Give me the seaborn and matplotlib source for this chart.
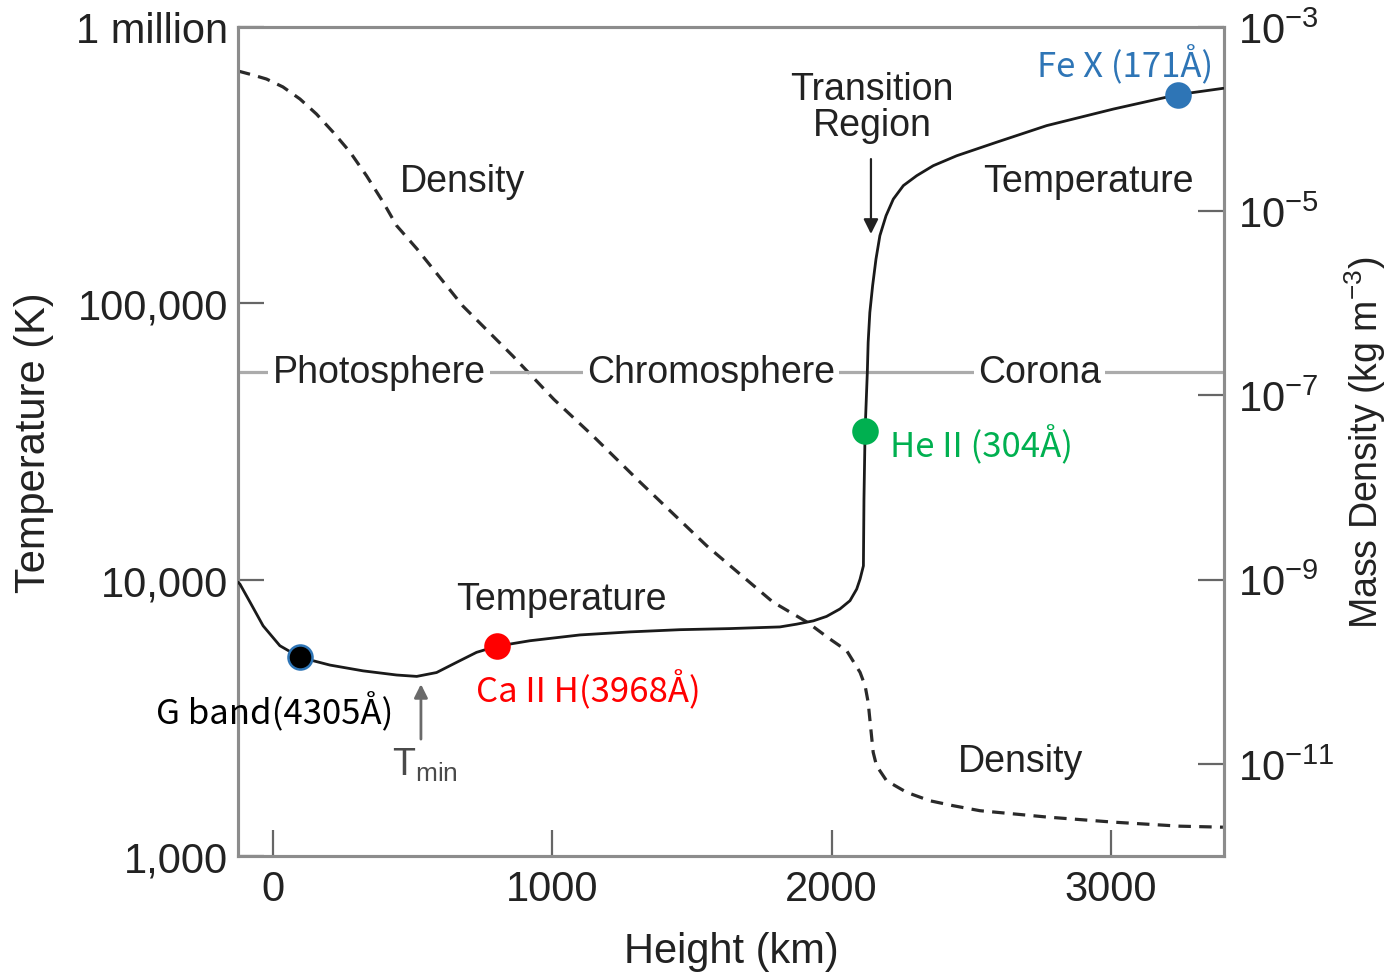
import numpy as np
import pandas as pd
import matplotlib
matplotlib.use("Agg")
import matplotlib.pyplot as plt
import seaborn as sns
from matplotlib.ticker import FixedLocator, FixedFormatter, NullLocator

# ---------------- data ----------------
temp_height_km = [-125, -118, -82, -35, 25, 97, 204, 323, 443, 515, 586, 658, 729, 801,
                  920, 1099, 1278, 1457, 1636, 1815, 1875, 1935, 1982, 2030, 2066,
                  2090, 2102, 2114, 2116, 2120, 2128, 2131, 2137, 2147, 2159, 2173,
                  2195, 2221, 2257, 2305, 2364, 2448, 2591, 2770, 3009, 3239, 3402]
temp_log10_K = [3.991, 3.984, 3.919, 3.833, 3.761, 3.719, 3.691, 3.670, 3.655, 3.650,
                3.664, 3.701, 3.737, 3.759, 3.779, 3.800, 3.811, 3.819, 3.823, 3.829,
                3.839, 3.851, 3.867, 3.894, 3.924, 3.966, 4.002, 4.050, 4.292, 4.538,
                4.750, 4.859, 4.967, 5.064, 5.160, 5.245, 5.317, 5.377, 5.426, 5.462,
                5.498, 5.534, 5.583, 5.643, 5.703, 5.755, 5.778]

dens_height_km = [-125, -72, -23, 36, 97, 156, 216, 276, 335, 395, 443, 516, 680, 859,
                  1006, 1146, 1314, 1554, 1790, 1912, 1994, 2054, 2102, 2120,
                  2131, 2137, 2143, 2149, 2161, 2197, 2269, 2352, 2436, 2531, 2771,
                  3008, 3247, 3401]
dens_log10_kgm3 = [-3.478, -3.521, -3.565, -3.651, -3.782, -3.945, -4.143, -4.357,
                   -4.614, -4.903, -5.157, -5.410, -6.029, -6.572, -7.043, -7.440,
                   -7.940, -8.635, -9.243, -9.460, -9.644, -9.770, -10.006,
                   -10.151, -10.331, -10.513, -10.694, -10.874, -11.020, -11.183,
                   -11.309, -11.400, -11.454, -11.508, -11.577, -11.632, -11.676,
                   -11.687]

height_ticks = [0, 1000, 2000, 3000]
temp_ticks = [1e3, 1e4, 1e5, 1e6]
temp_tick_labels = ["1,000", "10,000", "100,000", "1 million"]
dens_ticks = [1e-11, 1e-9, 1e-7, 1e-5, 1e-3]
dens_tick_labels = [r"$10^{-11}$", r"$10^{-9}$", r"$10^{-7}$", r"$10^{-5}$", r"$10^{-3}$"]

# spectral lines marked on the temperature curve
line_names = ["G band(4305Å)", "Ca II H(3968Å)", "He II (304Å)", "Fe X (171Å)"]
line_height_km = [97, 801, 2120, 3239]
line_log10_T = [3.719, 3.759, 4.538, 5.755]
line_colors = ["#000000", "#ff0000", "#00b050", "#2e75b6"]
line_edges = ["#2e75b6", "#ff0000", "#00b050", "#2e75b6"]
line_label_height_km = [7, 1131, 2535, 3050]
line_label_log10_T = [3.524, 3.604, 4.491, 5.866]

# atmospheric layers
region_names = ["Photosphere", "Chromosphere", "Corona"]
region_label_height_km = [380, 1568, 2743]
region_boundary_T = 56400

# curve annotations
note_texts = ["Density", "Temperature", "Transition\nRegion", "Temperature", "Density"]
note_height_km = [680, 1031, 2145, 2918, 2675]
note_log10_T = [5.443, 3.930, 5.710, 5.443, 3.343]

# ---------------- styling ----------------
sns.set_style("white")
plt.rcParams["font.family"] = ["Liberation Sans", "DejaVu Sans"]
plt.rcParams["mathtext.fontset"] = "custom"
plt.rcParams["mathtext.rm"] = "Liberation Sans"
plt.rcParams["mathtext.it"] = "Liberation Sans:italic"
plt.rcParams["mathtext.bf"] = "Liberation Sans:bold"

TXT = "#222222"
SPINE = "#8c8c8c"

fig = plt.figure(figsize=(13.9, 9.78), dpi=100)
ax = fig.add_axes([0.1712, 0.1237, 0.7094, 0.8477])
ax2 = ax.twinx()

temp_df = pd.DataFrame({"h": temp_height_km, "T": np.power(10.0, temp_log10_K)})
dens_df = pd.DataFrame({"h": dens_height_km, "rho": np.power(10.0, dens_log10_kgm3)})

ax.axhline(region_boundary_T, color="#ababab", lw=2.3, zorder=1)

sns.lineplot(data=temp_df, x="h", y="T", ax=ax, sort=False, estimator=None,
             color="#1a1a1a", lw=2.0, zorder=3)
sns.lineplot(data=dens_df, x="h", y="rho", ax=ax2, sort=False, estimator=None,
             color="#2a2a2a", lw=2.3, linestyle=(0, (3.9, 2.6)), zorder=3)

ax.set_xscale("linear")
ax.set_yscale("log")
ax2.set_yscale("log")
ax.set_xlim(-125, 3405)
ax.set_ylim(1e3, 1e6)
ax2.set_ylim(1e-12, 1e-3)

# ticks
ax.xaxis.set_major_locator(FixedLocator(height_ticks))
ax.yaxis.set_major_locator(FixedLocator(temp_ticks))
ax.yaxis.set_major_formatter(FixedFormatter(temp_tick_labels))
ax.yaxis.set_minor_locator(NullLocator())
ax2.yaxis.set_major_locator(FixedLocator(dens_ticks))
ax2.yaxis.set_major_formatter(FixedFormatter(dens_tick_labels))
ax2.yaxis.set_minor_locator(NullLocator())

ax.tick_params(axis="x", direction="in", length=19, width=1.6, color="#666666",
               labelsize=30, labelcolor=TXT, pad=9, bottom=True, top=False)
ax.tick_params(axis="y", direction="in", length=19, width=1.6, color="#666666",
               labelsize=30, labelcolor=TXT, pad=7, left=True, right=False)
ax2.tick_params(axis="y", direction="in", length=19, width=1.6, color="#666666",
                labelsize=30, labelcolor=TXT, pad=10, right=True, left=False)

for a in (ax, ax2):
    for s in a.spines.values():
        s.set_color(SPINE)
        s.set_linewidth(2.2)

ax.set_xlabel("Height (km)", fontsize=30, color=TXT, labelpad=16)
ax.set_ylabel("Temperature (K)", fontsize=30, color=TXT, labelpad=16)
ax2.set_ylabel(r"Mass Density (kg m$^{-3}$)", fontsize=27, color=TXT)
ax2.yaxis.set_label_coords(1.1435, 0.5)
ax2.yaxis.label.set_verticalalignment("center")
ax2.yaxis.label.set_horizontalalignment("center")

# layer labels breaking the gray boundary line
for name, h in zip(region_names, region_label_height_km):
    ax.text(h, region_boundary_T, name, fontsize=27, color=TXT,
            ha="center", va="center", zorder=2,
            bbox=dict(facecolor="white", edgecolor="none", pad=3))

# curve annotations
for txt, h, lt in zip(note_texts, note_height_km, note_log10_T):
    ax.text(h, 10 ** lt, txt, fontsize=27, color=TXT, ha="center", va="center",
            linespacing=1.0, zorder=4)

# Transition Region arrow
ax.annotate("", xy=(2141, 10 ** 5.251), xytext=(2141, 10 ** 5.522),
            arrowprops=dict(arrowstyle="-|>", color="#222222", lw=1.6,
                            mutation_scale=22, shrinkA=0, shrinkB=0))
# T_min arrow and label
ax.annotate("", xy=(530, 10 ** 3.622), xytext=(530, 10 ** 3.423),
            arrowprops=dict(arrowstyle="-|>", color="#6a6a6a", lw=2.0,
                            mutation_scale=20, shrinkA=0, shrinkB=0))
ax.text(544, 10 ** 3.333, r"T$_{\mathrm{min}}$", fontsize=27, color="#4a4a4a",
        ha="center", va="center")

# spectral line markers
for i in range(len(line_names)):
    pt = pd.DataFrame({"h": [line_height_km[i]], "T": [10 ** line_log10_T[i]]})
    sns.scatterplot(data=pt, x="h", y="T", ax=ax, s=300, color=line_colors[i],
                    edgecolor=line_edges[i], linewidth=1.8, zorder=6, clip_on=False)
    ax.text(line_label_height_km[i], 10 ** line_label_log10_T[i], line_names[i],
            fontsize=25, color=line_colors[i], ha="center", va="center",
            family=["Noto Sans CJK SC", "DejaVu Sans"], zorder=6)

ax.set_zorder(ax2.get_zorder() + 1)
ax.patch.set_visible(False)
ax2.patch.set_visible(True)
ax2.patch.set_facecolor("white")

fig.savefig("out.png", dpi=100, facecolor="white")
